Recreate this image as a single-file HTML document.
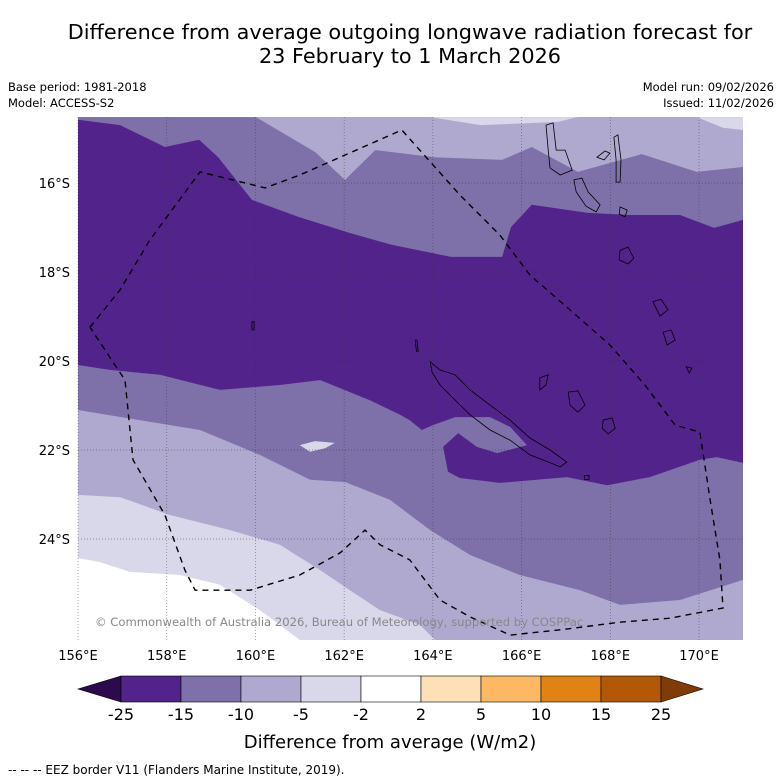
<!DOCTYPE html>
<html><head><meta charset="utf-8"><style>
body{margin:0;background:#fff;width:781px;height:781px;overflow:hidden;font-family:"DejaVu Sans","Liberation Sans",sans-serif}
svg{position:absolute;left:0;top:0;font-family:"DejaVu Sans","Liberation Sans",sans-serif}
</style></head><body>
<svg id="chart" width="781" height="781" viewBox="0 0 781 781">
<text x="410" y="39" font-size="20.8" text-anchor="middle">Difference from average outgoing longwave radiation forecast for</text>
<text x="410" y="63" font-size="20.8" text-anchor="middle">23 February to 1 March 2026</text>
<text x="8" y="91" font-size="11.5">Base period: 1981-2018</text>
<text x="8" y="107" font-size="11.5">Model: ACCESS-S2</text>
<text x="774" y="91" font-size="11.5" text-anchor="end">Model run: 09/02/2026</text>
<text x="774" y="107" font-size="11.5" text-anchor="end">Issued: 11/02/2026</text>
<g id="map"></g>
<g id="cbar"></g>
<text x="390" y="748" font-size="18" text-anchor="middle">Difference from average (W/m2)</text>
<text x="8" y="774" font-size="12">--  --  -- EEZ border V11 (Flanders Marine Institute, 2019).</text>
</svg>
<script>
const lonTicks=[156,158,160,162,164,166,168,170];
const latTicks=[-16,-18,-20,-22,-24];
const levelColors=["#52238a","#7e70a9","#b0a9cf","#d9d8ea","#ffffff"];
const regionMedium=[[156,-14.52],[160.01,-14.52],[161.34,-15.30],[162.02,-15.93],[162.70,-15.26],[164.03,-15.42],[165.56,-15.48],[166.23,-15.19],[167.27,-15.75],[168.71,-15.35],[169.95,-15.75],[170.99,-15.64],[170.99,-24.92],[169.57,-25.37],[168.22,-25.48],[167.32,-25.15],[165.96,-24.81],[164.84,-24.36],[163.94,-23.80],[163.03,-23.12],[162.02,-22.72],[161.23,-22.67],[160.10,-22.11],[158.75,-21.55],[157.40,-21.33],[156,-21.10]];
const regionDark=[[156,-14.58],[156.95,-14.70],[157.96,-15.19],[158.73,-15.03],[159.16,-15.42],[159.92,-16.38],[160.96,-16.76],[162.11,-17.12],[163.08,-17.39],[164.41,-17.66],[165.56,-17.66],[165.76,-16.99],[166.23,-16.49],[167.47,-16.67],[168.42,-16.72],[169.57,-16.72],[170.34,-17.01],[170.99,-16.83],[170.99,-22.29],[170.40,-22.16],[170.02,-22.22],[168.89,-22.61],[167.93,-22.79],[167.02,-22.61],[165.51,-22.74],[164.61,-22.63],[164.34,-22.49],[164.23,-21.93],[164.57,-21.62],[164.99,-21.93],[165.45,-22.07],[166.12,-21.89],[165.74,-21.48],[165.29,-21.26],[164.50,-21.26],[164.00,-21.44],[163.75,-21.55],[163.48,-21.33],[163.26,-21.21],[162.58,-20.88],[161.46,-20.43],[160.55,-20.54],[159.20,-20.65],[157.85,-20.31],[156.72,-20.20],[156,-20.09]];
const regionPaleSW=[[156,-23.01],[156.95,-23.06],[158.07,-23.46],[159.43,-23.80],[160.55,-24.13],[161.46,-24.70],[162.13,-25.15],[162.81,-25.60],[163.71,-25.93],[164.05,-26.27],[156,-26.27]];
const regionPaleN1=[[163.94,-14.52],[165.08,-14.70],[166.80,-14.63],[167.27,-14.52]];
const regionPaleN2=[[169.95,-14.52],[170.54,-14.76],[170.99,-14.81],[170.99,-14.52]];
const regionPalePatch=[[161.00,-21.89],[161.34,-21.80],[161.79,-21.84],[161.57,-21.96],[161.23,-22.04]];
const regionWhite=[[156,-24.43],[156.50,-24.52],[157.17,-24.74],[158.30,-24.81],[159.20,-25.03],[160.10,-25.60],[160.55,-25.93],[161.00,-26.27],[156,-26.27]];
const eezBorder=[[156.27,-19.24],[156.95,-18.40],[157.62,-17.28],[158.75,-15.75],[160.22,-16.11],[161.00,-15.82],[163.30,-14.81],[164.61,-16.27],[165.51,-17.17],[166.19,-18.07],[167.09,-18.85],[167.99,-19.64],[168.78,-20.54],[169.46,-21.44],[170.02,-21.60],[170.25,-23.12],[170.47,-24.47],[170.54,-25.55],[169.35,-25.78],[168.22,-25.87],[166.87,-26.04],[165.74,-26.16],[164.84,-25.75],[164.16,-25.37],[163.48,-24.47],[162.81,-24.13],[162.47,-23.80],[161.91,-24.31],[161.00,-24.81],[159.88,-25.15],[158.64,-25.15],[158.41,-24.70],[157.96,-23.46],[157.24,-22.22],[157.06,-20.43],[156.27,-19.24]];
const coasts=[
[[163.94,-20.02],[164.16,-20.20],[164.50,-20.31],[164.84,-20.65],[165.29,-20.99],[165.74,-21.33],[166.19,-21.73],[166.64,-22.00],[167.02,-22.27],[166.87,-22.38],[166.60,-22.27],[166.19,-22.11],[165.74,-21.78],[165.29,-21.55],[164.84,-21.21],[164.50,-20.88],[164.16,-20.54],[163.98,-20.25]],
[[166.41,-20.38],[166.60,-20.31],[166.55,-20.54],[166.41,-20.65]],
[[167.05,-20.70],[167.27,-20.67],[167.43,-20.99],[167.27,-21.15],[167.09,-20.99]],
[[167.84,-21.33],[168.04,-21.28],[168.11,-21.51],[167.95,-21.64],[167.82,-21.51]],
[[167.42,-22.57],[167.52,-22.57],[167.52,-22.66],[167.42,-22.66]],
[[166.55,-14.70],[166.71,-14.65],[166.78,-15.26],[166.98,-15.26],[167.14,-15.71],[166.87,-15.82],[166.64,-15.66],[166.60,-15.26]],
[[167.18,-15.93],[167.36,-15.89],[167.50,-16.20],[167.77,-16.49],[167.68,-16.65],[167.45,-16.52],[167.23,-16.20]],
[[168.08,-14.97],[168.17,-14.92],[168.24,-15.48],[168.22,-15.98],[168.13,-15.98],[168.13,-15.48]],
[[167.70,-15.42],[167.88,-15.28],[167.99,-15.33],[167.86,-15.48]],
[[168.22,-16.54],[168.38,-16.61],[168.33,-16.76],[168.20,-16.70]],
[[168.22,-17.51],[168.40,-17.44],[168.53,-17.69],[168.40,-17.82],[168.20,-17.73]],
[[168.96,-18.67],[169.14,-18.61],[169.30,-18.85],[169.12,-18.99]],
[[169.19,-19.35],[169.37,-19.30],[169.46,-19.53],[169.28,-19.64]],
[[169.71,-20.13],[169.84,-20.16],[169.78,-20.27]],
[[159.92,-19.12],[159.97,-19.12],[159.97,-19.30],[159.92,-19.30]],
[[163.60,-19.53],[163.64,-19.53],[163.67,-19.78],[163.63,-19.78]]
];
const cbarLabels=["-25","-15","-10","-5","-2","2","5","10","15","25"];
const cbarColors=["#52238a","#7e70a9","#b0a9cf","#d9d8ea","#ffffff","#fee0b6","#fdb863","#e08214","#b35806"];

const X0=78,X1=743,Y0=117,Y1=640;
const xS=lon=>X0+(lon-156)*44.36;
const yS=lat=>183+(-16-lat)*44.5;
const NS="http://www.w3.org/2000/svg";
const map=document.getElementById('map');
function mk(tag,attrs,parent){const e=document.createElementNS(NS,tag);for(const k in attrs)e.setAttribute(k,attrs[k]);parent.appendChild(e);return e;}
const pts=a=>a.map(p=>xS(p[0]).toFixed(1)+","+yS(p[1]).toFixed(1)).join(" ");
let bg=mk('rect',{x:X0,y:Y0,width:X1-X0,height:Y1-Y0,fill:levelColors[2]},map);


const regions=[[regionMedium,1,'anomaly-band-minus15-minus10'],[regionDark,0,'anomaly-band-minus25-minus15'],[regionPaleSW,3,'anomaly-band-minus5-minus2-sw'],[regionPaleN1,3,'anomaly-band-minus5-minus2-n1'],[regionPaleN2,3,'anomaly-band-minus5-minus2-n2'],[regionPalePatch,3,'anomaly-band-minus5-minus2-patch'],[regionWhite,4,'anomaly-band-near-zero']];
regions.forEach(r=>{const p=mk('polygon',{points:pts(r[0]),fill:levelColors[r[1]]},map);

});
lonTicks.forEach(l=>{const g=mk('line',{x1:xS(l),x2:xS(l),y1:Y0,y2:Y1,stroke:'#333','stroke-width':0.7,'stroke-dasharray':'1,2','stroke-opacity':0.6},map);


const t=mk('text',{x:xS(l),y:660,'font-size':13,'text-anchor':'middle'},map);t.textContent=l+"°E";

});
latTicks.forEach(l=>{const g=mk('line',{x1:X0,x2:X1,y1:yS(l),y2:yS(l),stroke:'#333','stroke-width':0.7,'stroke-dasharray':'1,2','stroke-opacity':0.6},map);


const t=mk('text',{x:70,y:yS(l)+5,'font-size':13,'text-anchor':'end'},map);t.textContent=(-l)+"°S";

});
coasts.forEach(c=>{const p=mk('polygon',{points:pts(c),fill:'none',stroke:'#000','stroke-width':0.8},map);

});
const eez=mk('polyline',{points:pts(eezBorder),fill:'none',stroke:'#000','stroke-width':1.4,'stroke-dasharray':'6,5'},map);


const cp=mk('text',{x:95,y:626,'font-size':11.6,fill:'#888'},map);cp.textContent="© Commonwealth of Australia 2026, Bureau of Meteorology, supported by COSPPac";


const cb=document.getElementById('cbar');const cx0=121,cw=60,cy=676,ch=26;
const lt=mk('polygon',{points:`${cx0},${cy} 78,${cy+ch/2} ${cx0},${cy+ch}`,fill:'#2d0a4e',stroke:'#000','stroke-width':0.6},cb);


cbarColors.forEach((c,i)=>{const r=mk('rect',{x:cx0+i*cw,y:cy,width:cw,height:ch,fill:c,stroke:'#000','stroke-width':0.6},cb);

});
const rx=cx0+cbarColors.length*cw;
const rt=mk('polygon',{points:`${rx},${cy} ${rx+42},${cy+ch/2} ${rx},${cy+ch}`,fill:'#7f3b08',stroke:'#000','stroke-width':0.6},cb);


cbarLabels.forEach((l,i)=>{const t=mk('text',{x:cx0+i*cw,y:720,'font-size':16,'text-anchor':'middle'},cb);t.textContent=l;

});
</script>
</body></html>
